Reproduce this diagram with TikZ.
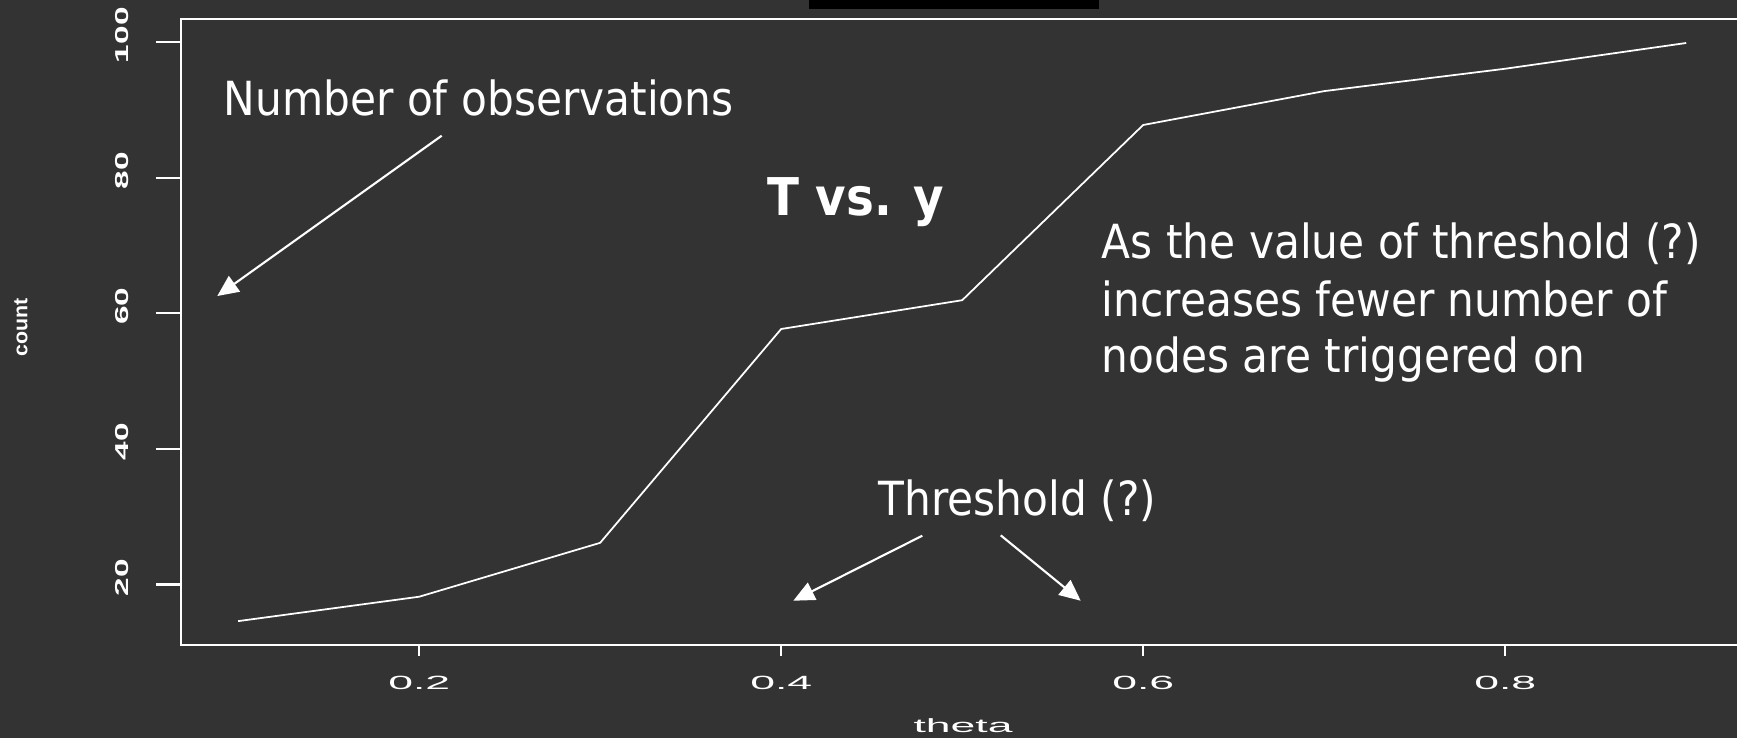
\documentclass[tikz,border=0pt]{standalone}
\usepackage{fontspec}
\setmainfont{Liberation Sans}
\newfontfamily\notefont[FakeStretch=0.9]{DejaVu Sans}
\usetikzlibrary{arrows.meta}
\definecolor{slidebg}{RGB}{51,51,51}

\begin{document}
\begin{tikzpicture}[x=0.01cm, y=-0.01cm,
  axisline/.style={white, line width=0.6pt},
  dataline/.style={white, line width=0.5pt, line join=round},
  ticklabel/.style={text=white, font=\fontsize{12.66}{14}\selectfont, inner sep=0pt},
  notetext/.style={text=white, font=\notefont\fontsize{13.37}{16}\selectfont,
                   inner sep=0pt, anchor=base west},
  titletext/.style={text=white, font=\notefont\bfseries\fontsize{14.8}{18}\selectfont,
                    inner sep=0pt, anchor=base west},
  pointer/.style={white, line width=0.6pt, -{Triangle[length=6pt, width=5.4pt]}},
]
  % Background
  \fill[slidebg] (0,0) rectangle (1737,738);
  \useasboundingbox (0,0) rectangle (1737,738);
  \fill[black] (809,0) rectangle (1098.5,9);

  % Frame
  \draw[axisline] (1737,19) -- (181,19) -- (181,645) -- (1737,645);

  % Y axis
  \foreach \v in {20,40,60,80,100} {
    \draw[axisline] (156,{720.05-6.7775*\v}) -- (181,{720.05-6.7775*\v});
    \node[ticklabel, rotate=90] (ylab\v) at (122,{713-6.7775*\v})
      {\scalebox{0.75}[0.42]{\bfseries\v}};
  }
  \node[ticklabel, rotate=90] (yname) at (21,327) {\scalebox{0.48}[0.45]{\bfseries count}};

  % X axis
  \foreach \t [count=\i] in {0.2,0.4,0.6,0.8} {
    \draw[axisline] ({57.2+1810*\t},645) -- ({57.2+1810*\t},656);
    \node[ticklabel] (xlab\i) at ({57.2+1810*\t},682.5) {\scalebox{1}[0.43]{\t}};
  }
  \node[ticklabel] (xname) at (963,726) {\scalebox{1}[0.43]{theta}};

  % Curve
  \begin{scope}[shift={(57.2,720.05)}, xscale=1810, yscale=-6.7775]
    \draw[dataline] plot coordinates {(0.1,14.6) (0.2,18.2) (0.3,26.15) (0.4,57.7)
      (0.5,61.95) (0.6,87.8) (0.7,92.8) (0.8,96.1) (0.9,99.9)};
  \end{scope}

  % Notes
  \node[notetext] (obsnote) at (223,115.6) {Number of observations};
  \node[titletext] (title) at (766.7,215) {T vs. y};
  \node[notetext] (line1) at (1101,258.5) {As the value of threshold (?)};
  \node[notetext] (line2) at (1101,316) {increases fewer number of};
  \node[notetext] (line3) at (1101,372) {nodes are triggered on};
  \node[notetext] (thnote) at (878,515) {Threshold (?)};

  % Arrows
  \coordinate (obstail) at (441.7,135.7);
  \coordinate (obstip) at (217.3,296);
  \coordinate (lefttail) at (922.3,535.7);
  \coordinate (lefttip) at (793.3,600.7);
  \coordinate (righttail) at (1000.7,535.3);
  \coordinate (righttip) at (1080.7,600.7);
  \draw[pointer] (obstail) -- (obstip);
  \draw[pointer] (lefttail) -- (lefttip);
  \draw[pointer] (righttail) -- (righttip);
\end{tikzpicture}
\end{document}
